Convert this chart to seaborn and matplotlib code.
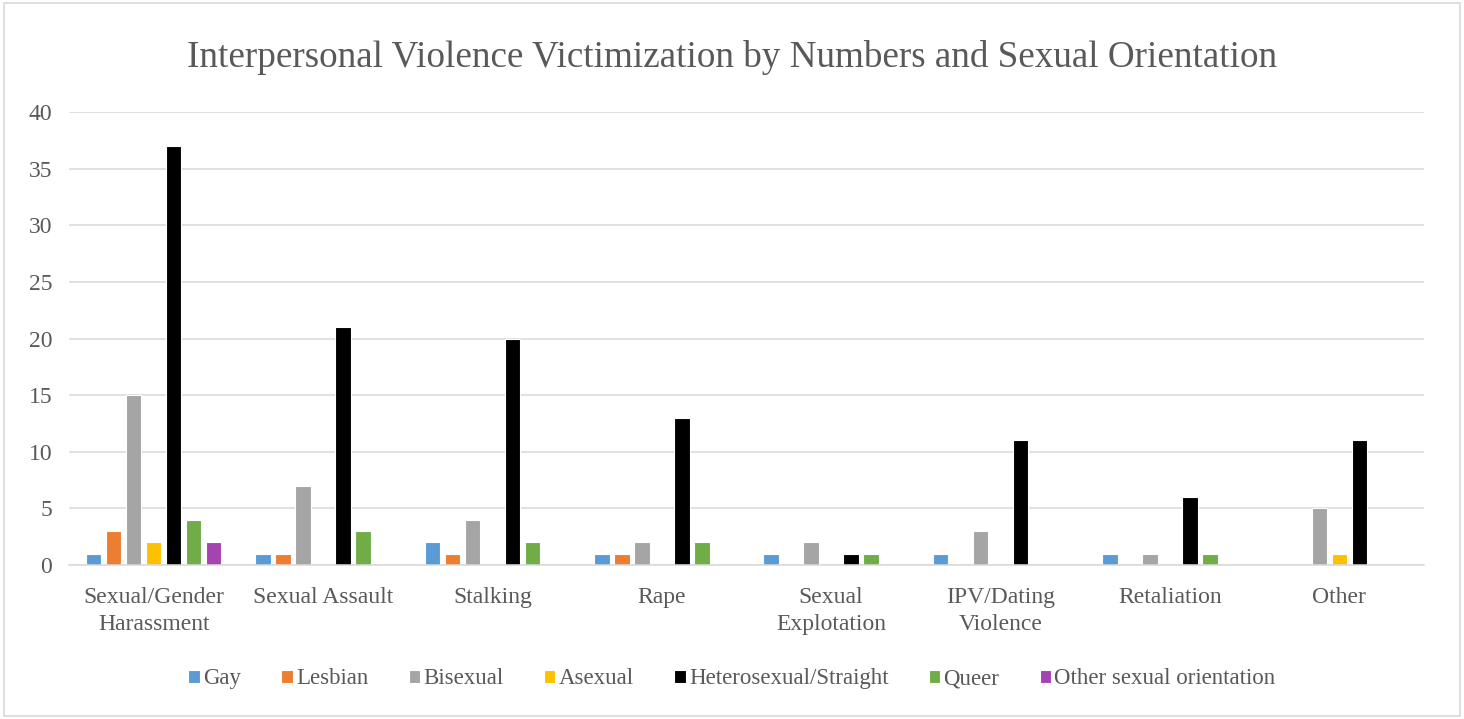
import numpy as np
import pandas as pd
import matplotlib
matplotlib.use("Agg")
import matplotlib.pyplot as plt
import seaborn as sns
from matplotlib.patches import Rectangle

categories = ["Sexual/Gender\nHarassment", "Sexual Assault", "Stalking", "Rape",
              "Sexual\nExplotation", "IPV/Dating\nViolence", "Retaliation", "Other"]
series = ["Gay", "Lesbian", "Bisexual", "Asexual", "Heterosexual/Straight",
          "Queer", "Other sexual orientation"]
gay = [1, 1, 2, 1, 1, 1, 1, 0]
lesbian = [3, 1, 1, 1, 0, 0, 0, 0]
bisexual = [15, 7, 4, 2, 2, 3, 1, 5]
asexual = [2, 0, 0, 0, 0, 0, 0, 1]
hetero = [37, 21, 20, 13, 1, 11, 6, 11]
queer = [4, 3, 2, 2, 1, 0, 1, 0]
other_orient = [2, 0, 0, 0, 0, 0, 0, 0]
colors = ["#5B9BD5", "#ED7D31", "#A5A5A5", "#FFC000", "#000000", "#70AD47", "#A543B0"]
yticks = [0, 5, 10, 15, 20, 25, 30, 35, 40]

values = [gay, lesbian, bisexual, asexual, hetero, queer, other_orient]
rows = []
for s, vals in zip(series, values):
    for c, v in zip(categories, vals):
        rows.append({"category": c, "series": s, "value": v if v > 0 else np.nan})
df = pd.DataFrame(rows)

sns.set_theme(style="white")
plt.rcParams["font.family"] = ["Liberation Serif", "DejaVu Serif"]
text_color = "#595959"

fig = plt.figure(figsize=(14.64, 7.19), dpi=100)
ax = fig.add_axes([0.0471, 0.2142, 0.9256, 0.6300])

sns.barplot(data=df, x="category", y="value", hue="series", order=categories,
            hue_order=series, palette=colors, saturation=1, width=0.826, gap=0.22,
            edgecolor="white", linewidth=0.8, ax=ax, legend=True)

ax.set_ylim(0, 40)
ax.set_xlim(-0.5, len(categories) - 0.5)
ax.set_yticks(yticks)
ax.yaxis.grid(True, color="#D9D9D9", linewidth=1.1)
ax.set_axisbelow(True)
for side in ["top", "right", "left"]:
    ax.spines[side].set_visible(False)
ax.spines["bottom"].set_color("#D9D9D9")
ax.spines["bottom"].set_linewidth(1.1)
ax.tick_params(axis="both", length=0, colors=text_color, labelsize=17)
ax.tick_params(axis="x", pad=16)
ax.tick_params(axis="y", pad=12)
for lab in ax.get_xticklabels() + ax.get_yticklabels():
    lab.set_color(text_color)
for lab in ax.get_xticklabels():
    lab.set_linespacing(1.35)
ax.set_xlabel("")
ax.set_ylabel("")

handles, labels = ax.get_legend_handles_labels()
ax.get_legend().remove()
fig.legend(handles, labels, loc="center", bbox_to_anchor=(0.5, 0.056), ncol=7,
           frameon=False, fontsize=16.5, handlelength=0.5, handleheight=0.5,
           handletextpad=0.15, columnspacing=1.75, labelcolor=text_color)

fig.suptitle("Interpersonal Violence Victimization by Numbers and Sexual Orientation",
             x=0.5, y=0.945, fontsize=26.7, color=text_color)

fig.patches.append(Rectangle((0.003, 0.004), 0.994, 0.992, transform=fig.transFigure,
                             fill=False, edgecolor="#D9D9D9", linewidth=1.2))

fig.savefig("out.png", dpi=100)
